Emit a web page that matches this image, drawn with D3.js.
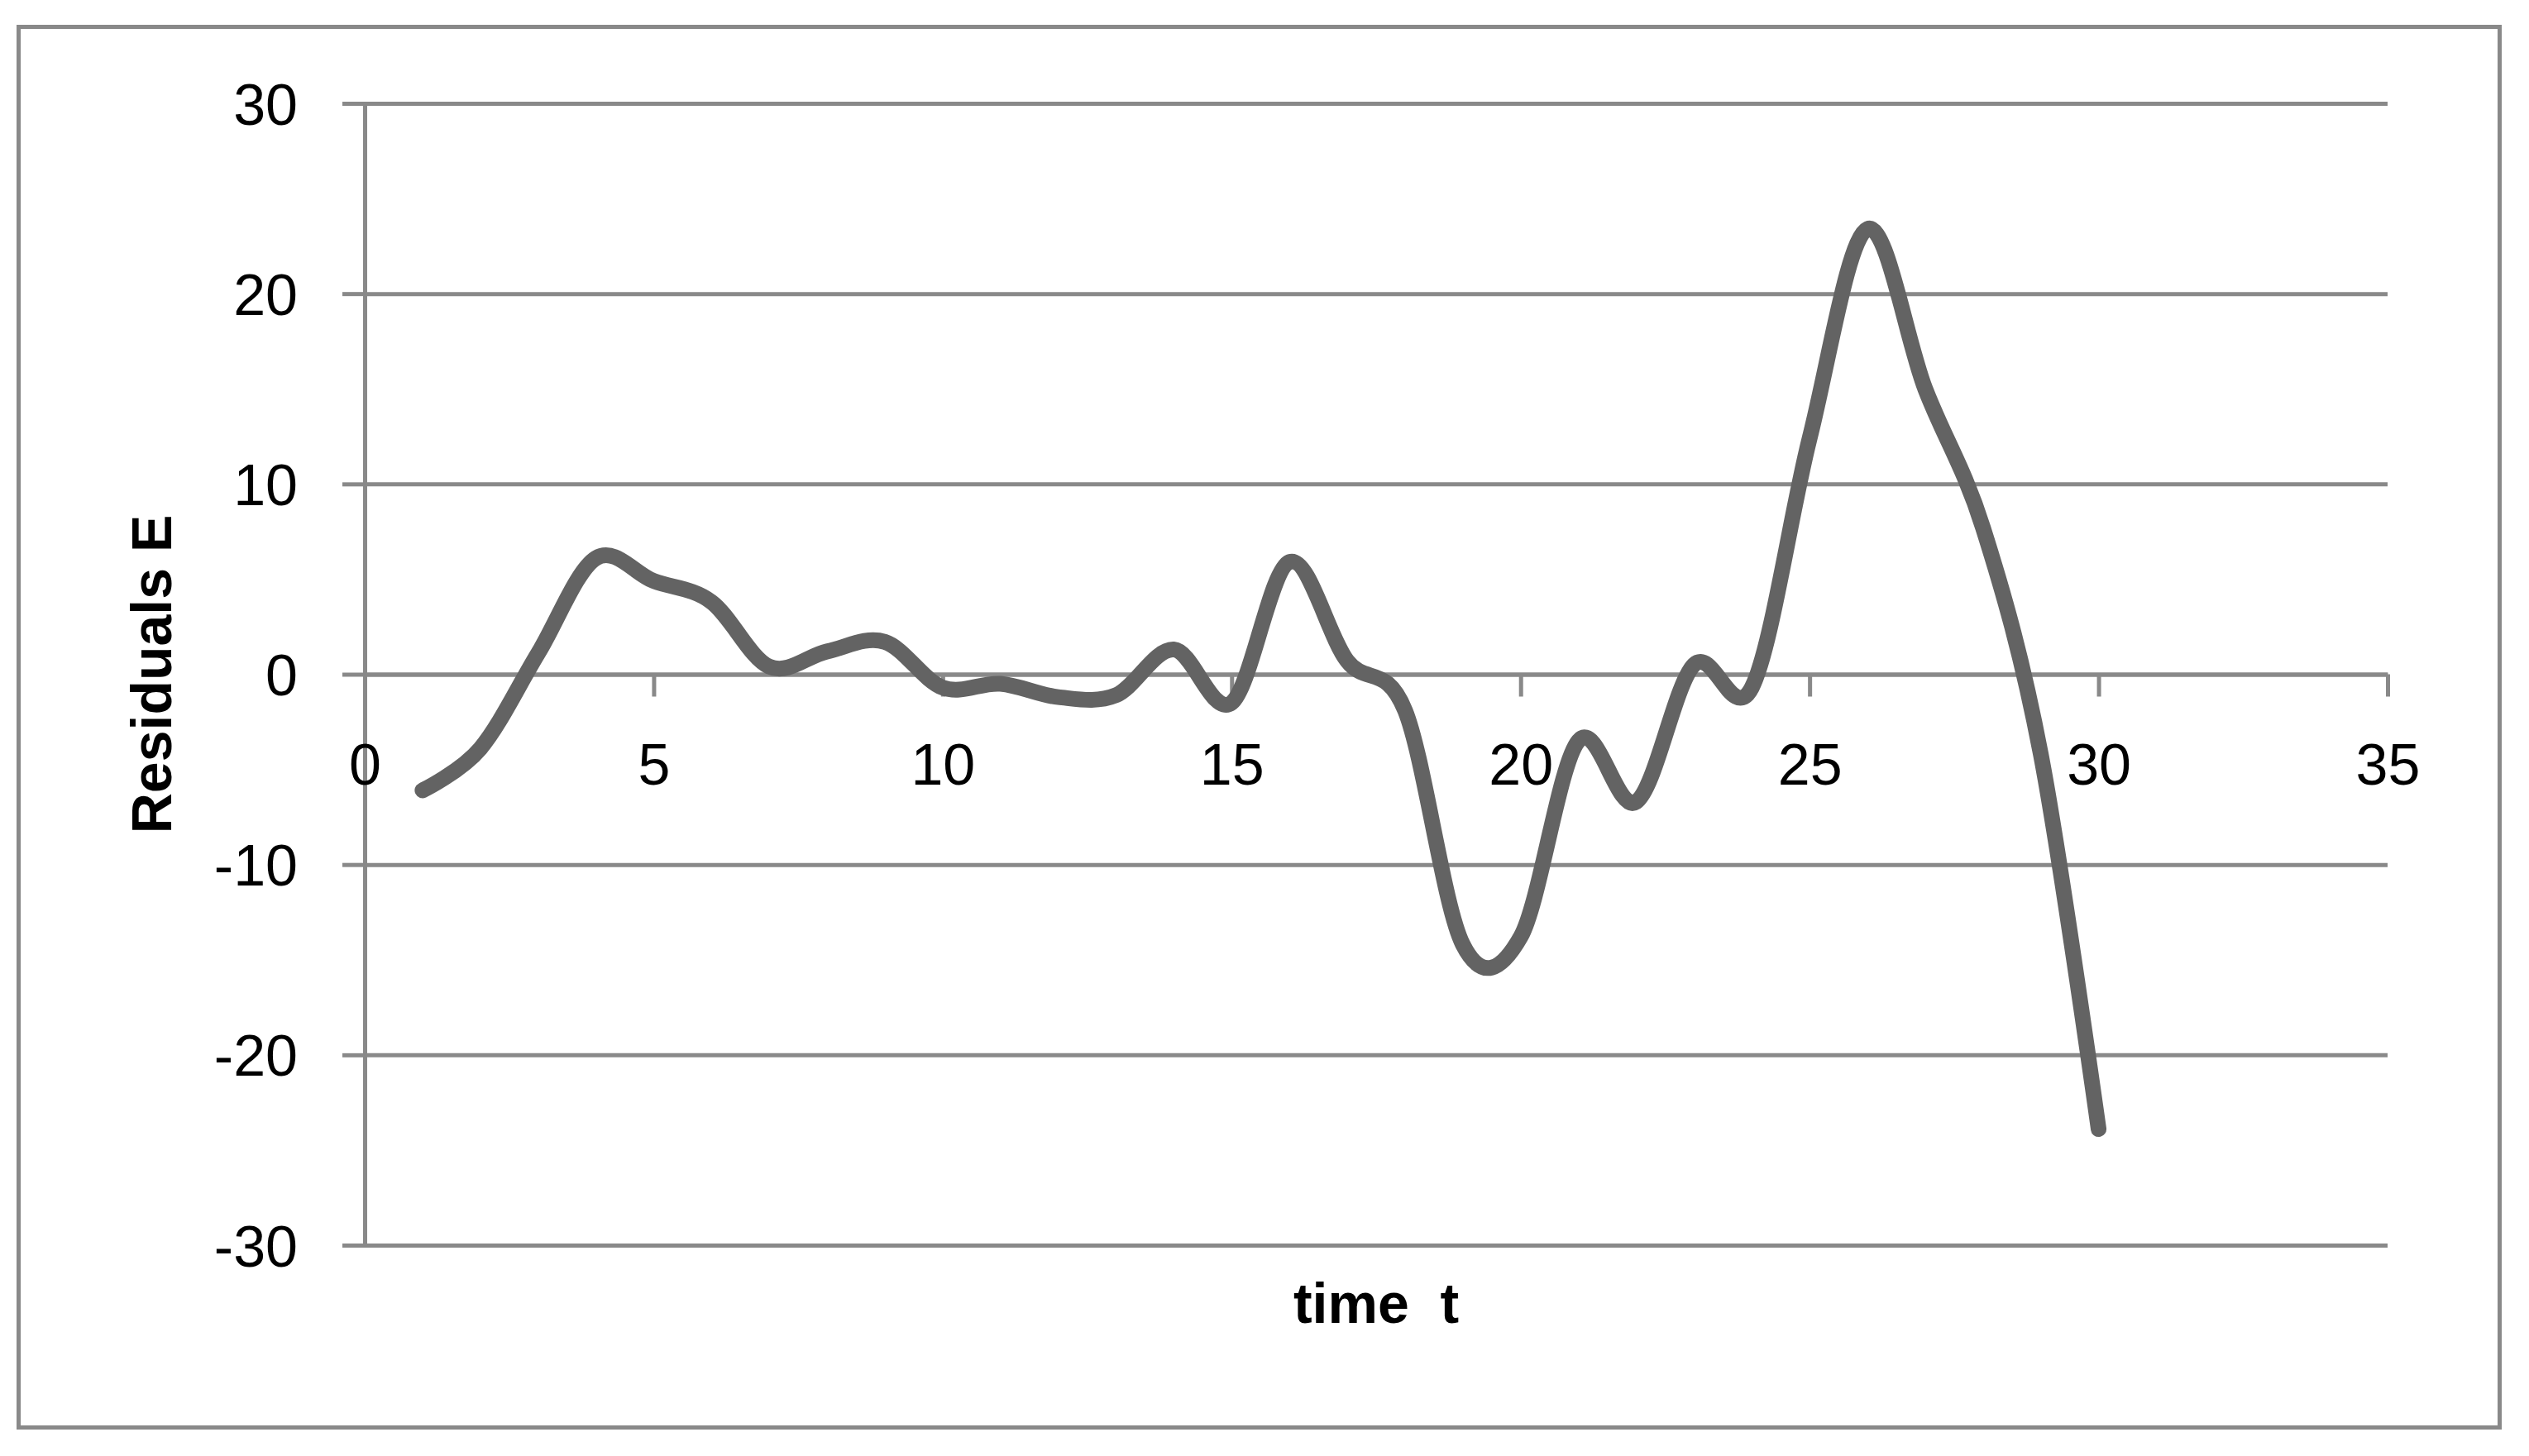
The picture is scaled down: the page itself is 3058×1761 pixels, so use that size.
<!DOCTYPE html>
<html>
<head>
<meta charset="utf-8">
<script src="https://cdn.jsdelivr.net/npm/d3@7"></script>
<style>
  html, body { margin: 0; padding: 0; background: #fff; }
  svg { display: block; }
  text { font-family: 'Liberation Sans', Arial, sans-serif; fill: #000; }
</style>
</head>
<body>
<div id="chart"></div>
<script>
// residuals, one point per time step
const times = [1, 2, 3, 4, 5, 6, 7, 8, 9, 10, 11, 12, 13, 14, 15,
  16, 17, 18, 19, 20, 21, 22, 23, 24, 25, 26, 27, 28, 29, 30];
const residuals = [-6.1, -3.9, 1.1, 6.1, 4.9, 3.8, 0.4, 1.2, 1.7, -0.7,
  -0.5, -1.2, -1.1, 1.3, -1.5, 5.9, 0.7, -1.9, -14.2, -13.8,
  -3.5, -6.7, 0.5, -0.7, 12.4, 23.4, 15.0, 7.7, -4.2, -23.9];

const xTicks = [0, 5, 10, 15, 20, 25, 30, 35];
const yTicks = [-30, -20, -10, 0, 10, 20, 30];
const xTitle = 'time  t';
const yTitle = 'Residuals E';

const settings = {
  width: 3058,
  height: 1761,
  left: 441,
  right: 2887,
  top: 125,
  bottom: 1506,
  tick: 27,
  gridColor: '#898989',
  lineColor: '#636363'
};

const svg = d3.select('#chart')
  .append('svg')
  .attr('width', settings.width)
  .attr('height', settings.height);

// outer chart frame
svg.append('rect')
  .attr('x', 22.5)
  .attr('y', 32.5)
  .attr('width', 3000)
  .attr('height', 1694)
  .attr('fill', '#fff')
  .attr('stroke', settings.gridColor)
  .attr('stroke-width', 5);

const x = d3.scaleLinear()
  .domain([0, 35])
  .range([settings.left, settings.right]);

const y = d3.scaleLinear()
  .domain([-30, 30])
  .range([settings.bottom, settings.top]);

// plain hyphen for negatives, like the spreadsheet
const plain = d => String(d);

// horizontal gridlines
const grid = svg.append('g')
  .attr('transform', `translate(${settings.left},0)`)
  .call(d3.axisLeft(y)
    .tickValues(yTicks)
    .tickSize(-(settings.right - settings.left))
    .tickFormat(''));
grid.select('.domain').remove();
grid.selectAll('line')
  .attr('stroke', settings.gridColor)
  .attr('stroke-width', 5);

// y axis: line, outside ticks, labels
const yAxis = svg.append('g')
  .attr('transform', `translate(${settings.left},0)`)
  .call(d3.axisLeft(y)
    .tickValues(yTicks)
    .tickSize(settings.tick)
    .tickSizeOuter(0)
    .tickFormat(plain));
yAxis.select('.domain')
  .attr('stroke', settings.gridColor)
  .attr('stroke-width', 5);
yAxis.selectAll('line')
  .attr('stroke', settings.gridColor)
  .attr('stroke-width', 5);
yAxis.selectAll('text')
  .attr('x', -81)
  .attr('dy', 25)
  .attr('font-size', 70)
  .attr('font-family', null)
  .attr('text-anchor', 'end');

// x axis sits on the zero line
const xAxis = svg.append('g')
  .attr('transform', `translate(0,${y(0)})`)
  .call(d3.axisBottom(x)
    .tickValues(xTicks)
    .tickSize(settings.tick)
    .tickSizeOuter(0)
    .tickFormat(plain));
xAxis.select('.domain')
  .attr('stroke', settings.gridColor)
  .attr('stroke-width', 5);
xAxis.selectAll('line')
  .attr('stroke', settings.gridColor)
  .attr('stroke-width', 5);
xAxis.selectAll('text')
  .attr('y', 133)
  .attr('dy', 0)
  .attr('font-size', 70)
  .attr('font-family', null);

svg.selectAll('.tick text').attr('fill', '#000');

// smoothed series line
const points = times.map((t, i) => ({ t, e: residuals[i] }));
const line = d3.line()
  .x(d => x(d.t))
  .y(d => y(d.e))
  .curve(d3.curveCardinal.tension(0));

svg.append('path')
  .datum(points)
  .attr('d', line)
  .attr('fill', 'none')
  .attr('stroke', settings.lineColor)
  .attr('stroke-width', 19)
  .attr('stroke-linecap', 'round')
  .attr('stroke-linejoin', 'round');

// axis titles
svg.append('text')
  .attr('x', (settings.left + settings.right) / 2)
  .attr('y', 1600)
  .attr('text-anchor', 'middle')
  .attr('font-size', 68)
  .attr('font-weight', 'bold')
  .style('white-space', 'pre')
  .text(xTitle);

svg.append('text')
  .attr('transform', `translate(207,${(settings.top + settings.bottom) / 2}) rotate(-90)`)
  .attr('text-anchor', 'middle')
  .attr('font-size', 68)
  .attr('font-weight', 'bold')
  .text(yTitle);
</script>
</body>
</html>
